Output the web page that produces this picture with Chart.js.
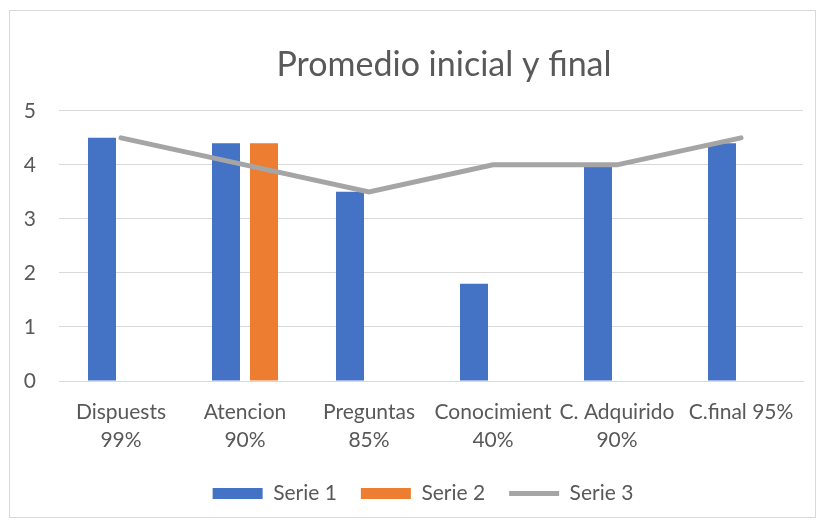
<!DOCTYPE html>
<html>
<head>
<meta charset="utf-8">
<script src="https://cdn.jsdelivr.net/npm/chart.js@4.4.1/dist/chart.umd.min.js"></script>
<style>
  body { margin: 0; background: #fff; }
  #wrap { position: relative; width: 825px; height: 527px; }
  #frame { position: absolute; left: 9px; top: 10px; width: 805px; height: 506px; border: 1px solid #d9d9d9; }
  canvas { position: absolute; left: 0; top: 0; }
</style>
</head>
<body>
<div id="wrap">
  <div id="frame"></div>
  <canvas id="chart" width="825" height="527"></canvas>
</div>
<script>
// datos
const categorias = [
    ["Dispuests", "99%"],
    ["Atencion", "90%"],
    ["Preguntas", "85%"],
    ["Conocimient", "40%"],
    ["C. Adquirido", "90%"],
    "C.final 95%",
];
const serie1 = [4.5, 4.4, 3.5, 1.8, 4.0, 4.4];
const serie2 = [null, 4.4, null, null, null, null];
const serie3 = [4.5, 4.0, 3.5, 4.0, 4.0, 4.5];
const ticksY = [0, 1, 2, 3, 4, 5];

const textColor = "#595959";
const fontFamily = "Lato, 'Open Sans', sans-serif";

// el título y la leyenda del original no están centrados: los corremos un poco
const shiftBoxes = {
    id: "shiftBoxes",
    afterLayout(chart) {
        chart.titleBlock.left += 35;
        chart.titleBlock.right += 35;
        chart.legend.left += 14;
        chart.legend.right += 14;
    },
};

const chart = new Chart(document.getElementById("chart"), {
    type: "bar",
    data: {
        labels: categorias,
        datasets: [
            {
                label: "Serie 1",
                data: serie1,
                backgroundColor: "#4472C4",
                categoryPercentage: 0.613,
                barPercentage: 0.737,
                order: 1,
            },
            {
                label: "Serie 2",
                data: serie2,
                backgroundColor: "#ED7D31",
                categoryPercentage: 0.613,
                barPercentage: 0.737,
                order: 1,
            },
            {
                type: "line",
                label: "Serie 3",
                data: serie3,
                borderColor: "#A5A5A5",
                backgroundColor: "#A5A5A5",
                borderWidth: 5,
                borderCapStyle: "round",
                pointRadius: 0,
                tension: 0,
                order: 0,
            },
        ],
    },
    plugins: [shiftBoxes],
    options: {
        responsive: false,
        animation: false,
        layout: { padding: { left: 15, right: 22, top: 10, bottom: 13 } },
        plugins: {
            tooltip: { enabled: false },
            title: {
                display: true,
                text: "Promedio inicial y final",
                color: textColor,
                font: { family: fontFamily, size: 34, weight: "normal" },
                padding: { top: 35, bottom: 25 },
            },
            legend: {
                position: "bottom",
                labels: {
                    color: textColor,
                    font: { family: fontFamily, size: 21 },
                    usePointStyle: true,
                    pointStyleWidth: 50,
                    boxHeight: 11,
                    padding: 24,
                    sort: (a, b) => a.datasetIndex - b.datasetIndex,
                    generateLabels: (chart) => {
                        const items = Chart.defaults.plugins.legend.labels.generateLabels(chart);
                        items.forEach((it) => {
                            if (it.datasetIndex === 2) {
                                it.pointStyle = "line";
                                it.lineWidth = 5;
                                it.strokeStyle = "#A5A5A5";
                            } else {
                                it.pointStyle = "rect";
                                it.lineWidth = 0;
                            }
                        });
                        return items;
                    },
                },
            },
        },
        scales: {
            x: {
                grid: { display: false, drawTicks: false },
                border: { color: "#d9d9d9", width: 1 },
                ticks: {
                    color: textColor,
                    font: { family: fontFamily, size: 21, lineHeight: 1.333 },
                    maxRotation: 0,
                    autoSkip: false,
                    padding: 17,
                },
                afterFit: (scale) => {
                    scale.height = 78;
                },
            },
            y: {
                min: 0,
                max: 5,
                afterBuildTicks: (scale) => {
                    scale.ticks = ticksY.map((v) => ({ value: v }));
                },
                grid: { color: "#d9d9d9", drawTicks: false },
                border: { display: false },
                ticks: {
                    color: textColor,
                    font: { family: fontFamily, size: 21 },
                    padding: 23,
                },
                afterFit: (scale) => {
                    scale.width = 44;
                },
            },
        },
    },
});
</script>
</body>
</html>
